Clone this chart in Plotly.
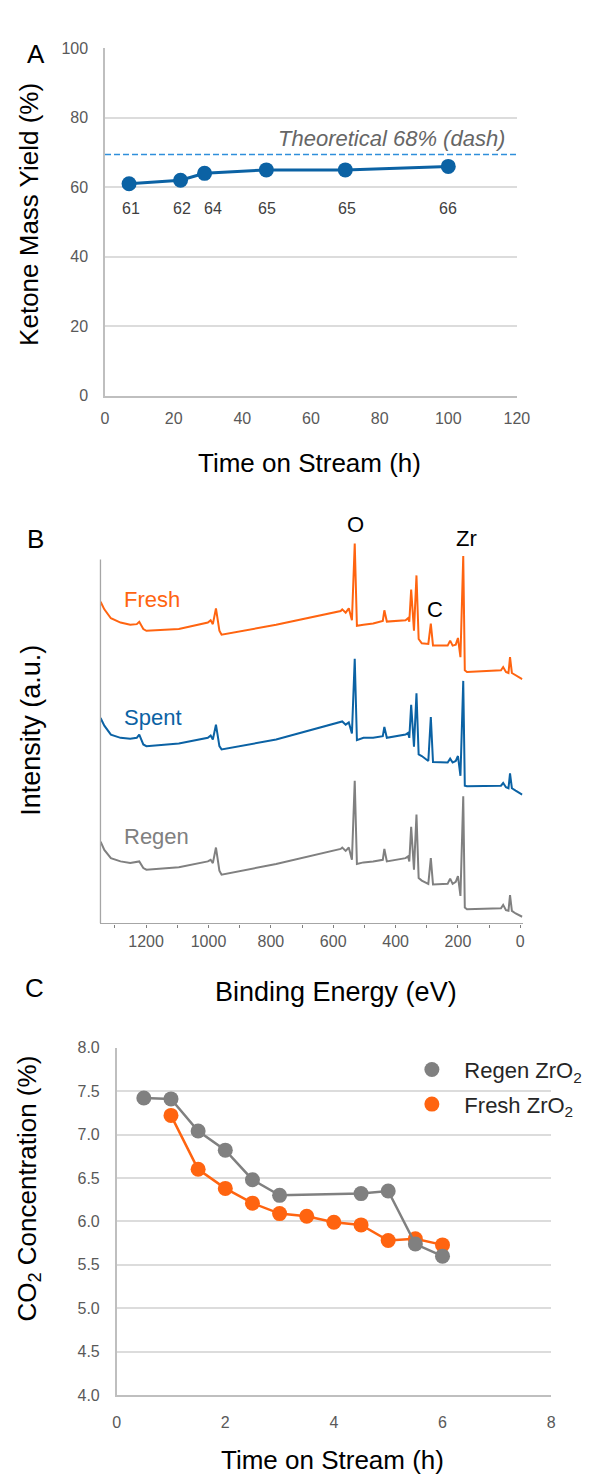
import plotly.graph_objects as go

W, H = 595, 1482
FONT = "Arial, 'Liberation Sans', sans-serif"

# ---------------- Panel A data ----------------
time_a = [7, 22, 29, 47, 70, 100]
yield_a = [61, 62, 64, 65, 65, 66]
label_xshift_a = [2, 1, 8, 1, 2, 0]
LABEL_Y_A = 54
theoretical = 69.4
theoretical_label = "Theoretical 68% (dash)"

# ---------------- Panel B data (XPS survey) ----------------
binding_energy = [1346, 1334, 1313, 1282, 1251, 1230, 1222, 1209, 1199, 1095,
                  1002, 993, 986, 976, 965, 958, 783, 576, 571, 560,
                  550, 540, 531, 524, 503, 472, 441, 436, 428, 368,
                  360, 356, 350, 341, 333, 326, 316, 295, 287, 280,
                  233, 225, 217, 207, 200, 192, 183, 178, 171, 62,
                  55, 46, 38, 33, 27, 15, 5, -6]
fresh_b = [325.3, 317.7, 308.7, 304.3, 302, 302.7, 305, 297.7, 296, 297.7,
           304.3, 306.7, 302.7, 318.7, 296, 292, 302, 316, 317.7, 314.3,
           318.7, 306.7, 384.3, 301, 302, 303.3, 306, 316.7, 305.3, 306.7,
           308.7, 305.3, 337.7, 296, 352, 287.7, 283.3, 282.7, 303.3, 281,
           281, 286, 281, 282, 288.7, 269.3, 371.7, 256, 254.3, 256,
           259.3, 254.3, 253.3, 269.3, 253.3, 251, 249.3, 247]
spent_b = [207.7, 200, 191, 187.7, 186.7, 187.7, 191, 181, 179.3, 182,
           187.7, 190, 186, 201, 179.3, 176, 186, 203.3, 204.3, 201,
           203.3, 192, 267.7, 185.3, 187.7, 187.7, 189.3, 198.7, 187.7, 191,
           192.7, 187.7, 221, 178.7, 232.7, 171, 169.3, 164.3, 208.7, 163.3,
           162.7, 166.7, 162.7, 164.3, 169.3, 149.3, 245.3, 139.3, 138.7, 139.3,
           142, 137.7, 136.7, 151.7, 136.7, 134.3, 132.7, 130.3]
regen_b = [82.7, 74.3, 66, 62.7, 61, 61.7, 62.7, 56, 54.3, 56.7,
           62.7, 64.3, 61, 76.7, 53.3, 49.3, 60, 75.3, 76.7, 73.3,
           76.7, 64.3, 144.3, 60, 61.7, 62.7, 64.3, 75.3, 62.7, 66,
           67.7, 62.7, 97.7, 54.3, 110, 46, 43.3, 40, 66, 39.3,
           40, 45.3, 40, 42, 47.7, 27.7, 128.7, 16, 14.3, 15.3,
           18.7, 13.3, 12.7, 28.7, 12.7, 10, 8.7, 6.7]
series_names_b = ["Fresh", "Spent", "Regen"]
series_label_y_b = [328, 208, 88]
peak_labels = ["O", "C", "Zr"]
peak_be = [528, 275, 173]

# ---------------- Panel C data ----------------
time_regen = [0.5, 1, 1.5, 2, 2.5, 3, 4.5, 5, 5.5, 6]
co2_regen = [7.42, 7.41, 7.04, 6.82, 6.48, 6.30, 6.32, 6.35, 5.74, 5.60]
time_fresh = [1, 1.5, 2, 2.5, 3, 3.5, 4, 4.5, 5, 5.5, 6]
co2_fresh = [7.22, 6.60, 6.38, 6.21, 6.09, 6.06, 5.99, 5.96, 5.78, 5.80, 5.73]

# ---------------- styles ----------------
BLUE = "#0B62A4"
LIGHTBLUE = "#2F8FDB"
ORANGE = "#FF6410"
GRAY = "#808080"
GRID = "#dcdcdc"
AXC = "#bfbfbf"
TICKC = "#595959"


def px(x):
    return x / W


def py(y):
    return 1 - y / H


fig = go.Figure()

# Panel A
fig.add_trace(go.Scatter(x=time_a, y=yield_a, mode="lines+markers",
                         line=dict(color=BLUE, width=3),
                         marker=dict(size=15, color=BLUE),
                         xaxis="x", yaxis="y", showlegend=False, hoverinfo="skip"))

# Panel B
for vals, col in zip([fresh_b, spent_b, regen_b], [ORANGE, BLUE, GRAY]):
    fig.add_trace(go.Scatter(x=binding_energy, y=vals, mode="lines",
                             line=dict(color=col, width=2),
                             xaxis="x2", yaxis="y2", showlegend=False, hoverinfo="skip"))

# Panel C
fig.add_trace(go.Scatter(x=time_fresh, y=co2_fresh, mode="lines+markers",
                         line=dict(color=ORANGE, width=2.5),
                         marker=dict(size=15, color=ORANGE),
                         xaxis="x3", yaxis="y3", showlegend=False, hoverinfo="skip"))
fig.add_trace(go.Scatter(x=time_regen, y=co2_regen, mode="lines+markers",
                         line=dict(color=GRAY, width=2.5),
                         marker=dict(size=15, color=GRAY),
                         xaxis="x3", yaxis="y3", showlegend=False, hoverinfo="skip"))
# legend entries (markers only)
fig.add_trace(go.Scatter(x=[None], y=[None], mode="markers", name="Regen ZrO<sub>2</sub>",
                         marker=dict(size=15, color=GRAY), xaxis="x3", yaxis="y3",
                         legend="legend"))
fig.add_trace(go.Scatter(x=[None], y=[None], mode="markers", name="Fresh ZrO<sub>2</sub>",
                         marker=dict(size=15, color=ORANGE), xaxis="x3", yaxis="y3",
                         legend="legend2"))

tickfont = dict(family=FONT, size=16, color=TICKC)

annotations = []
# panel letters
for letter, (lx, ly) in zip(["A", "B", "C"], [(22, 29), (22, 537), (20, 1009)]):
    annotations.append(dict(text=letter, x=px(lx), y=py(ly), xref="paper", yref="paper",
                            showarrow=False, font=dict(family=FONT, size=26, color="black")))
# axis titles
titles = [
    ("Ketone Mass Yield (%)", 25, 209, -90, 26),
    ("Time on Stream (h)", 314, 460, 0, 26),
    ("Intensity (a.u.)", 27, 731, -90, 27),
    ("Binding Energy (eV)", 342, 995, 0, 27),
    ("CO<sub>2</sub> Concentration (%)", 25, 1194, -90, 26),
    ("Time on Stream (h)", 338, 1469, 0, 26),
]
for t, tx, ty, ang, fs in titles:
    annotations.append(dict(text=t, x=px(tx), y=py(ty), xref="paper", yref="paper",
                            showarrow=False, textangle=ang, xanchor="center", yanchor="middle",
                            font=dict(family=FONT, size=fs, color="black")))
# panel A data labels
for t, v, xs in zip(time_a, yield_a, label_xshift_a):
    annotations.append(dict(text=str(v), x=t, y=LABEL_Y_A, xref="x", yref="y",
                            showarrow=False, xshift=xs,
                            font=dict(family=FONT, size=16, color="#404040")))
annotations.append(dict(text="<i>" + theoretical_label + "</i>", x=px(518), y=py(132),
                        xref="paper", yref="paper", xanchor="right", yanchor="middle",
                        showarrow=False, font=dict(family=FONT, size=22, color="#666666")))
# panel B series labels
for name, ly, col in zip(series_names_b, series_label_y_b, [ORANGE, BLUE, GRAY]):
    annotations.append(dict(text=name, x=1276, y=ly, xref="x2", yref="y2",
                            xanchor="left", yanchor="middle", showarrow=False,
                            font=dict(family=FONT, size=22, color=col)))
# panel B peak labels
for lab, be_pos, ly in zip(peak_labels, peak_be, [522, 608, 537]):
    annotations.append(dict(text=lab, x=be_pos, y=py(ly), xref="x2", yref="paper",
                            xanchor="center", yanchor="middle", showarrow=False,
                            font=dict(family=FONT, size=22, color="black")))

shapes = [
    dict(type="line", xref="x domain", x0=0, x1=1, yref="y", y0=theoretical, y1=theoretical,
         line=dict(color=LIGHTBLUE, width=1.5, dash="6px,3px")),
    dict(type="line", xref="x2 domain", x0=0, x1=0, yref="y2", y0=0, y1=368,
         line=dict(color="#a6a6a6", width=1.3)),
]

legend_common = dict(xanchor="left", yanchor="middle", itemwidth=55,
                     font=dict(family=FONT, size=22, color="#262626"),
                     bgcolor="rgba(0,0,0,0)", borderwidth=0)

fig.update_layout(
    width=W, height=H,
    margin=dict(l=0, r=0, t=0, b=0),
    paper_bgcolor="white", plot_bgcolor="white",
    font=dict(family=FONT),
    xaxis=dict(domain=[px(104), px(528)], range=[0, 120], dtick=20, tick0=0,
               showgrid=False, showline=True, linecolor=AXC, linewidth=1.5,
               zeroline=False, ticks="", tickfont=tickfont, ticklabelstandoff=7,
               anchor="y"),
    yaxis=dict(domain=[py(392.3), py(40.7)], range=[0, 100], dtick=20, tick0=0,
               showgrid=True, gridcolor=GRID, gridwidth=1.5,
               showline=True, linecolor=AXC, linewidth=1.5,
               zeroline=False, ticks="", tickfont=tickfont, ticklabelstandoff=12,
               anchor="x"),
    xaxis2=dict(domain=[px(99.3), px(534)], range=[1346.4, -7.8], dtick=200, tick0=0,
                showgrid=False, showline=True, linecolor="#a6a6a6", linewidth=1.3,
                zeroline=False, ticks="outside", ticklen=3, tickcolor="#7f7f7f",
                minor=dict(dtick=100, tick0=0, ticks="outside", ticklen=3,
                           tickcolor="#7f7f7f", showgrid=False),
                tickfont=tickfont, anchor="y2"),
    yaxis2=dict(domain=[py(926), py(535)], range=[0, 391], visible=False, anchor="x2"),
    xaxis3=dict(domain=[px(116), px(563.2)], range=[0, 8], dtick=2, tick0=0,
                showgrid=False, showline=True, linecolor=AXC, linewidth=1.5,
                zeroline=False, ticks="", tickfont=tickfont, ticklabelstandoff=12,
                anchor="y3"),
    yaxis3=dict(domain=[py(1403.3), py(1051.7)], range=[4, 8], dtick=0.5, tick0=4,
                tickformat=".1f", showgrid=True, gridcolor=GRID, gridwidth=1.5,
                showline=True, linecolor=AXC, linewidth=1.5,
                zeroline=False, ticks="", tickfont=tickfont, ticklabelstandoff=12,
                anchor="x3"),
    legend=dict(x=px(407), y=py(1074), **legend_common),
    legend2=dict(x=px(407), y=py(1109), **legend_common),
    annotations=annotations,
    shapes=shapes,
)

# remove the browser's default 8px page margin so the figure sits at the window origin
fig.write_html("out.html", config={"displayModeBar": False},
               post_script="document.body.style.margin='0';")
